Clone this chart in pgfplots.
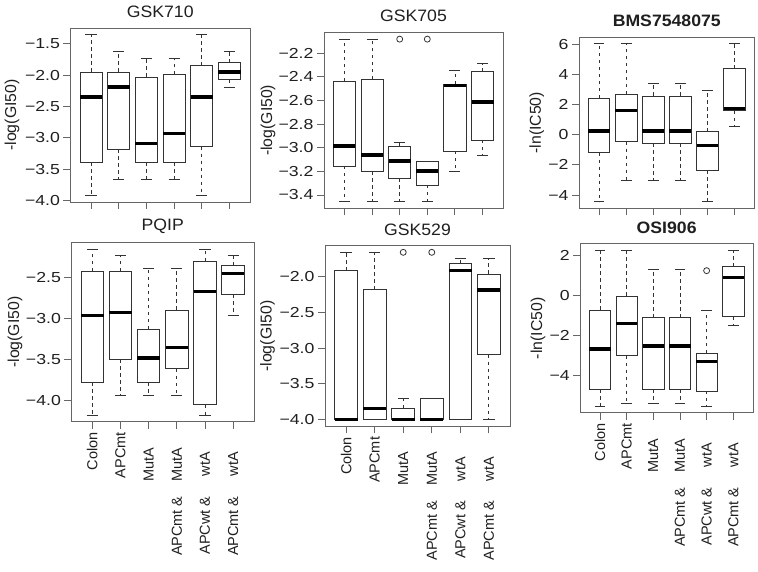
\documentclass[border=0pt]{standalone}
\usepackage{fontspec}
\setmainfont{Liberation Sans}
\newfontfamily\tickfont[FakeStretch=1.22]{Liberation Sans}
\newfontfamily\titlefont[FakeStretch=1.07]{Liberation Sans}
\usepackage{pgfplots}
\pgfplotsset{compat=1.18}
\usepgfplotslibrary{statistics}

\definecolor{framec}{rgb}{0.40,0.40,0.40}
\definecolor{boxc}{rgb}{0.20,0.20,0.20}
\definecolor{txtc}{rgb}{0.12,0.12,0.12}

\newcommand{\lA}[1]{\makebox[64pt][c]{#1}}

\pgfplotsset{
  rbox/.style={
    scale only axis,
    anchor=south west,
    xmin=0.26, xmax=6.74,
    xtick={1,2,3,4,5,6},
    tick pos=left,
    tick align=outside,
    major tick length=7pt,
    axis line style={framec, line width=0.9pt},
    every tick/.style={framec, line width=0.9pt},
    yticklabel style={font=\tickfont\fontsize{14.5}{16}\selectfont, text=txtc},
    xticklabel style={font=\fontsize{14.5}{16}\selectfont, text=txtc, rotate=90, anchor=east},
    ylabel style={font=\fontsize{15.8}{17}\selectfont, text=txtc, anchor=center},
    title style={font=\titlefont\fontsize{16.5}{19}\selectfont, text=txtc, at={(axis description cs:0.5,1)}, anchor=center, yshift=10pt},
    boxplot/draw direction=y,
    boxplot/box extend=0.8,
    boxplot/whisker extend=0.4,
    boxplot/every median/.style={black, line width=3.2pt},
    boxplot/draw/lower whisker/.code={
      \draw[boxc, line width=0.8pt, dash pattern=on 3.5pt off 3.5pt]
        (boxplot box cs:\pgfplotsboxplotvalue{lower quartile},0.5) --
        (boxplot box cs:\pgfplotsboxplotvalue{lower whisker},0.5);
      \draw[boxc, line width=0.8pt, solid]
        (boxplot whisker cs:\pgfplotsboxplotvalue{lower whisker},0) --
        (boxplot whisker cs:\pgfplotsboxplotvalue{lower whisker},1);
    },
    boxplot/draw/upper whisker/.code={
      \draw[boxc, line width=0.8pt, dash pattern=on 3.5pt off 3.5pt]
        (boxplot box cs:\pgfplotsboxplotvalue{upper quartile},0.5) --
        (boxplot box cs:\pgfplotsboxplotvalue{upper whisker},0.5);
      \draw[boxc, line width=0.8pt, solid]
        (boxplot whisker cs:\pgfplotsboxplotvalue{upper whisker},0) --
        (boxplot whisker cs:\pgfplotsboxplotvalue{upper whisker},1);
    },
  },
  bx/.style={draw=boxc, line width=0.8pt, solid, mark=o, mark size=3pt,
    mark options={boxc, line width=0.8pt, solid}},
}
\newcommand{\bp}[6]{\addplot[bx, boxplot prepared={draw position=#1, lower whisker=#2, lower quartile=#3, median=#4, upper quartile=#5, upper whisker=#6}] coordinates {};}
\newcommand{\bpo}[7]{\addplot[bx, boxplot prepared={draw position=#1, lower whisker=#2, lower quartile=#3, median=#4, upper quartile=#5, upper whisker=#6}] coordinates {(#1,#7)};}

\begin{document}
\begin{tikzpicture}
\path[use as bounding box] (0pt,0pt) rectangle (758pt,571pt);

% ---------------- GSK710
\begin{axis}[rbox, at={(70.5pt,369pt)}, width=179.5pt, height=174pt,
  ymin=-4.02, ymax=-1.25,
  ytick={-4,-3.5,-3,-2.5,-2,-1.5},
  yticklabels={−4.0,−3.5,−3.0,−2.5,−2.0,−1.5},
  xticklabels={,,,,,},
  title={GSK710}, ylabel={-log(GI50)},
  ylabel style={at={(axis description cs:-0.326,0.5)}}]
\bp{1}{-3.92}{-3.39}{-2.35}{-1.95}{-1.35}
\bp{2}{-3.66}{-3.18}{-2.19}{-1.95}{-1.63}
\bp{3}{-3.66}{-3.39}{-3.09}{-2.03}{-1.73}
\bp{4}{-3.66}{-3.39}{-2.93}{-1.99}{-1.73}
\bp{5}{-3.92}{-3.14}{-2.35}{-1.85}{-1.35}
\bp{6}{-2.19}{-2.07}{-1.95}{-1.80}{-1.63}
\end{axis}

% ---------------- GSK705
\begin{axis}[rbox, at={(324pt,362.7pt)}, width=179pt, height=176pt,
  ymin=-3.513, ymax=-2.022,
  ytick={-3.4,-3.2,-3.0,-2.8,-2.6,-2.4,-2.2},
  yticklabels={−3.4,−3.2,−3.0,−2.8,−2.6,−2.4,−2.2},
  xticklabels={,,,,,},
  title={GSK705}, ylabel={-log(GI50)},
  ylabel style={at={(axis description cs:-0.313,0.5)}}]
\bp{1}{-3.456}{-3.154}{-2.985}{-2.437}{-2.08}
\bp{2}{-3.456}{-3.20}{-3.061}{-2.42}{-2.08}
\bpo{3}{-3.456}{-3.259}{-3.112}{-2.985}{-2.957}{-2.08}
\bpo{4}{-3.456}{-3.315}{-3.197}{-3.115}{-3.115}{-2.08}
\bp{5}{-3.20}{-3.027}{-2.472}{-2.462}{-2.344}
\bp{6}{-3.061}{-2.934}{-2.612}{-2.355}{-2.288}
\end{axis}

% ---------------- BMS7548075
\begin{axis}[rbox, at={(579pt,362.7pt)}, width=175.5pt, height=171pt,
  ymin=-4.88, ymax=6.46,
  ytick={-4,-2,0,2,4,6},
  yticklabels={−4,−2,0,2,4,6},
  xticklabels={,,,,,},
  title={\bfseries BMS7548075}, ylabel={-ln(IC50)},
  ylabel style={at={(axis description cs:-0.241,0.5)}}]
\bp{1}{-4.44}{-1.19}{0.25}{2.42}{6.04}
\bp{2}{-3.05}{-0.46}{1.58}{2.70}{6.04}
\bp{3}{-3.05}{-0.57}{0.25}{2.57}{3.39}
\bp{4}{-3.05}{-0.57}{0.25}{2.57}{3.39}
\bp{5}{-4.44}{-2.36}{-0.70}{0.20}{2.92}
\bp{6}{0.58}{1.58}{1.73}{4.38}{6.04}
\end{axis}

% ---------------- PQIP
\begin{axis}[rbox, at={(71.4pt,149.2pt)}, width=182.6pt, height=179.5pt,
  ymin=-4.26, ymax=-2.074,
  ytick={-4,-3.5,-3,-2.5},
  yticklabels={−4.0,−3.5,−3.0,−2.5},
  xticklabels={Colon,APCmt,\lA{MutA},APCmt \&\lA{MutA},APCwt \&\lA{wtA},APCmt \&\lA{wtA}},
  title={PQIP}, ylabel={-log(GI50)},
  ylabel style={at={(axis description cs:-0.309,0.5)}}]
\bp{1}{-4.18}{-3.78}{-2.967}{-2.427}{-2.155}
\bp{2}{-3.94}{-3.496}{-2.927}{-2.427}{-2.236}
\bp{3}{-3.94}{-3.78}{-3.484}{-3.13}{-2.39}
\bp{4}{-3.94}{-3.614}{-3.358}{-2.898}{-2.39}
\bp{5}{-4.18}{-4.053}{-2.671}{-2.305}{-2.155}
\bp{6}{-2.967}{-2.707}{-2.455}{-2.358}{-2.236}
\end{axis}

% ---------------- GSK529
\begin{axis}[rbox, at={(325pt,144.6pt)}, width=185pt, height=180.8pt,
  ymin=-4.094, ymax=-1.566,
  ytick={-4,-3.5,-3,-2.5,-2},
  yticklabels={−4.0,−3.5,−3.0,−2.5,−2.0},
  xticklabels={Colon,APCmt,\lA{MutA},APCmt \&\lA{MutA},APCwt \&\lA{wtA},APCmt \&\lA{wtA}},
  title={GSK529}, ylabel={-log(GI50)},
  ylabel style={at={(axis description cs:-0.311,0.5)}}]
\bp{1}{-4.0}{-4.0}{-4.0}{-1.916}{-1.66}
\bp{2}{-4.0}{-4.0}{-3.84}{-2.18}{-1.66}
\bpo{3}{-4.0}{-4.0}{-4.0}{-3.84}{-3.70}{-1.66}
\bpo{4}{-4.0}{-4.0}{-4.0}{-3.70}{-3.70}{-1.66}
\bp{5}{-4.0}{-4.0}{-1.916}{-1.814}{-1.744}
\bp{6}{-4.0}{-3.09}{-2.186}{-1.963}{-1.744}
\end{axis}

% ---------------- OSI906
\begin{axis}[rbox, at={(580.3pt,158.2pt)}, width=172.7pt, height=169pt,
  ymin=-5.87, ymax=2.56,
  ytick={-4,-2,0,2},
  yticklabels={−4,−2,0,2},
  xticklabels={Colon,APCmt,\lA{MutA},APCmt \&\lA{MutA},APCwt \&\lA{wtA},APCmt \&\lA{wtA}},
  title={\bfseries OSI906}, ylabel={-ln(IC50)},
  ylabel style={at={(axis description cs:-0.245,0.5)}}]
\bp{1}{-5.56}{-4.70}{-2.69}{-0.74}{2.25}
\bp{2}{-5.41}{-3.02}{-1.41}{-0.04}{2.25}
\bp{3}{-5.41}{-4.70}{-2.54}{-1.12}{1.30}
\bp{4}{-5.41}{-4.70}{-2.54}{-1.12}{1.30}
\bpo{5}{-5.56}{-4.78}{-3.30}{-2.90}{-0.74}{1.22}
\bp{6}{-1.49}{-1.07}{0.89}{1.42}{2.25}
\end{axis}
\end{tikzpicture}
\end{document}
